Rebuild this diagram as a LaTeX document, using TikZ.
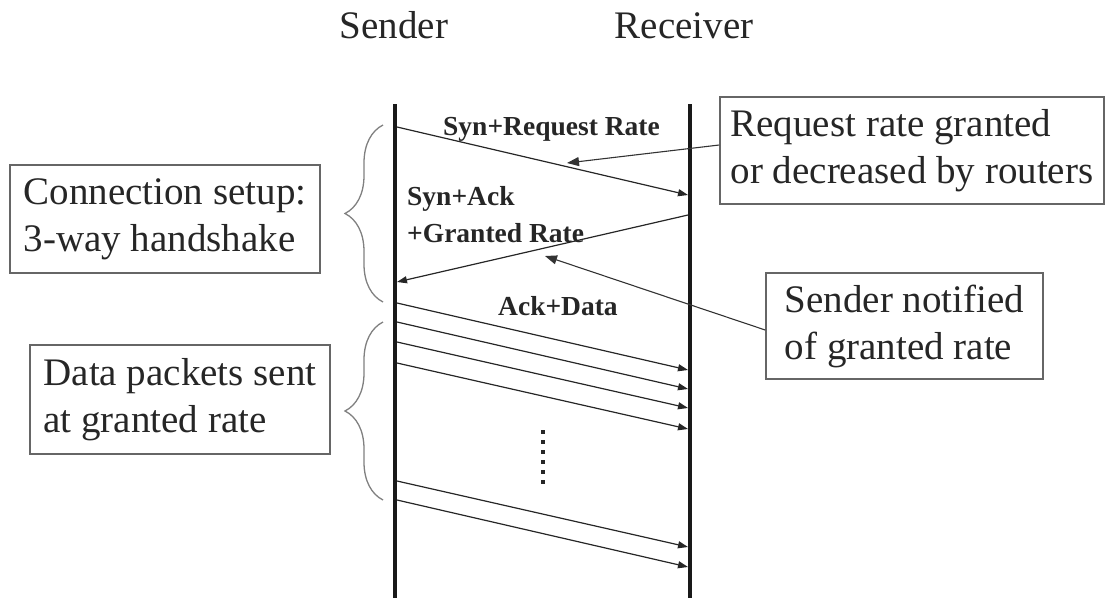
\documentclass[tikz,border=0pt]{standalone}
\usepackage{fontspec}
\setmainfont{Liberation Serif}
\usetikzlibrary{arrows.meta,decorations.pathreplacing}
\tikzset{
  lifeline/.style={line width=3.5pt, black!90},
  msg/.style={line width=1.2pt, black!85, -{Triangle[length=10pt,width=7pt]}},
  annot/.style={line width=1.1pt, black!80, -{Triangle[length=12pt,width=9pt]}},
  infobox/.style={draw=black!60, line width=1.6pt, align=left, inner sep=0pt,
    font=\fontsize{39}{47}\selectfont, text=black!85},
  title/.style={font=\fontsize{39}{47}\selectfont, text=black!85, inner sep=0pt, anchor=base},
  msglabel/.style={font=\bfseries\fontsize{27.5}{33}\selectfont, text=black!85, inner sep=0pt, anchor=base west},
  bracket/.style={draw=black!50, line width=1.3pt, decorate,
    decoration={brace, amplitude=38pt, aspect=0.5}},
  dots/.style={line width=4pt, black!85, dash pattern=on 4pt off 6pt}
}
\begin{document}
\begin{tikzpicture}[x=1pt,y=-1pt]
\useasboundingbox (0,0) rectangle (1106,598);

% titles
\node[title] (sender) at (394,38) {Sender};
\node[title] (receiver) at (684,38) {Receiver};

% lifelines
\coordinate (stop) at (395,104);
\coordinate (sbot) at (395,598);
\coordinate (rtop) at (690,104);
\coordinate (rbot) at (690,598);
\draw[lifeline] (stop) -- (sbot);
\draw[lifeline] (rtop) -- (rbot);

% handshake messages
\coordinate (m1s) at (397,127);
\coordinate (m1e) at (688,195);
\coordinate (m2s) at (688,215);
\coordinate (m2e) at (397,282);
\draw[msg] (m1s) -- (m1e);
\draw[msg] (m2s) -- (m2e);

\node[msglabel] (lbl1) at (443,135) {Syn+Request Rate};
\node[msglabel] (lbl2a) at (407,205) {Syn+Ack};
\node[msglabel] (lbl2b) at (407,242) {+Granted Rate};
\node[msglabel] (lbl3) at (498,315) {Ack+Data};

% data messages
\foreach \i/\a/\b in {1/303/370, 2/322/389, 3/342/408, 4/363/429, 5/481/547, 6/500/567} {
  \coordinate (d\i s) at (397,\a);
  \coordinate (d\i e) at (688,\b);
  \draw[msg] (d\i s) -- (d\i e);
}

% vertical dots
\coordinate (dottop) at (543,430);
\coordinate (dotbot) at (543,486);
\draw[dots] (dottop) -- (dotbot);

% boxes
\node[infobox, minimum width=384pt, minimum height=107pt] (boxrr) at (912,150.5)
  {Request rate granted\\or decreased by routers};
\node[infobox, minimum width=277pt, minimum height=106pt] (boxsn) at (904.5,326)
  {Sender notified\\of granted rate};
\node[infobox, minimum width=310pt, minimum height=108pt] (boxcs) at (165,219)
  {Connection setup:\\3-way handshake};
\node[infobox, minimum width=300pt, minimum height=109pt] (boxdp) at (180,399.5)
  {Data packets sent\\at granted rate};

% annotation arrows
\coordinate (tip1) at (567,163);
\coordinate (tip2) at (545,256);
\draw[annot] ([yshift=5.5pt]boxrr.west) -- (tip1);
\draw[annot] ([yshift=-4pt]boxsn.west) -- (tip2);

% braces
\coordinate (b1top) at (383,125);
\coordinate (b1bot) at (383,302);
\coordinate (b2top) at (383,322);
\coordinate (b2bot) at (383,500);
\draw[bracket] (b1bot) -- (b1top);
\draw[bracket] (b2bot) -- (b2top);
\end{tikzpicture}
\end{document}
